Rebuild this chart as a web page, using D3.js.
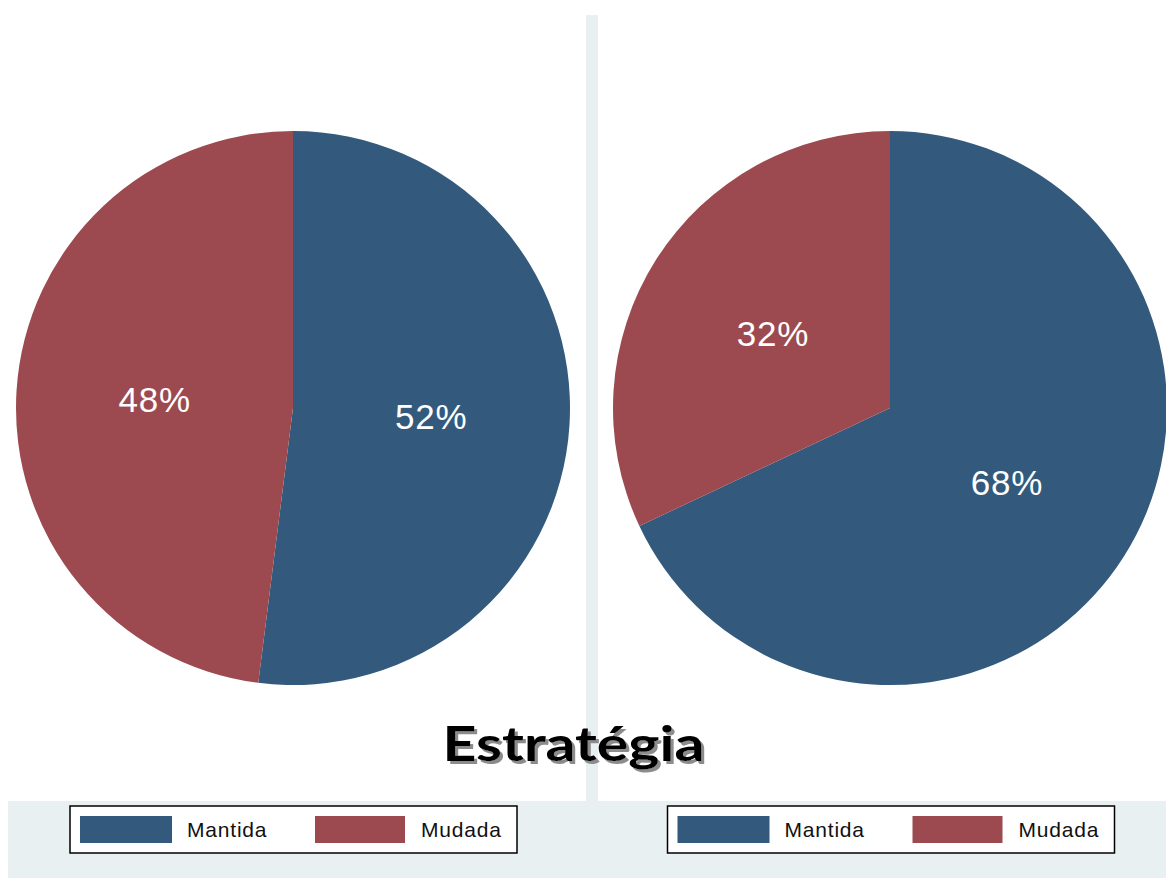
<!DOCTYPE html>
<html>
<head>
<meta charset="utf-8">
<script src="https://cdn.jsdelivr.net/npm/d3@7"></script>
<style>
  html, body { margin: 0; padding: 0; background: #ffffff; }
  svg { display: block; }
</style>
</head>
<body>
<script>
// ---- data ----
const categories = ["Mantida", "Mudada"];
const leftValues = [52, 48];
const rightValues = [68, 32];
const titleText = "Estratégia";

const W = 1166, H = 879;
const colors = d3.scaleOrdinal().domain(categories).range(["#335a7c", "#9c4a50"]);

const svg = d3.select("body").append("svg").attr("width", W).attr("height", H);

const defs = svg.append("defs");
const f = defs.append("filter").attr("id", "shadow")
  .attr("x", "-5%").attr("y", "-10%").attr("width", "115%").attr("height", "130%");
f.append("feDropShadow").attr("dx", 3).attr("dy", 3).attr("stdDeviation", 0.6)
  .attr("flood-color", "#8c8c8c").attr("flood-opacity", 1);

// background pieces
svg.append("rect").attr("x", 0).attr("y", 0).attr("width", W).attr("height", H).attr("fill", "#ffffff");
svg.append("rect").attr("x", 8).attr("y", 801).attr("width", W - 8).attr("height", 77).attr("fill", "#e8f0f2");
svg.append("rect").attr("x", 586).attr("y", 15).attr("width", 12).attr("height", 790).attr("fill", "#e8f0f2");

const r = 277;
const pie = d3.pie().sort(null).value(d => d.value);
const arc = d3.arc().innerRadius(0).outerRadius(r);
const labelArc = d3.arc().innerRadius(r * 0.5).outerRadius(r * 0.5);

function drawPie(cx, cy, values) {
  const data = categories.map((c, i) => ({ cat: c, value: values[i] }));
  const g = svg.append("g").attr("transform", `translate(${cx},${cy})`);
  const arcs = pie(data);
  g.selectAll("path").data(arcs).join("path")
    .attr("d", arc)
    .attr("fill", d => colors(d.data.cat));
  g.selectAll("text").data(arcs).join("text")
    .attr("transform", d => {
      const [x, y] = labelArc.centroid(d);
      return `translate(${x},${y})`;
    })
    .attr("text-anchor", "middle")
    .attr("dominant-baseline", "central")
    .attr("font-family", "Liberation Sans, Arial, sans-serif")
    .attr("font-size", 35)
    .attr("letter-spacing", 0.8)
    .attr("fill", "#ffffff")
    .text(d => d.data.value + "%");
}

drawPie(293, 408, leftValues);
drawPie(890, 408, rightValues);

function drawLegend(L) {
  const g = svg.append("g").attr("transform", `translate(${L},806)`);
  g.append("rect").attr("x", 0).attr("y", 0).attr("width", 447).attr("height", 47)
    .attr("fill", "#ffffff").attr("stroke", "#000000").attr("stroke-width", 1.5);
  const sx = [10, 245], tx = [117, 351], sw = [92, 90];
  categories.forEach((c, i) => {
    g.append("rect").attr("x", sx[i]).attr("y", 10).attr("width", sw[i]).attr("height", 27)
      .attr("fill", colors(c));
    g.append("text").attr("x", tx[i]).attr("y", 30.5)
      .attr("font-family", "Liberation Sans, Arial, sans-serif")
      .attr("font-size", 21)
      .attr("letter-spacing", 0.8)
      .attr("fill", "#111111")
      .text(c);
  });
}
drawLegend(70);
drawLegend(667.5);

// title with drop shadow
svg.append("text").attr("x", 573.5).attr("y", 761)
  .attr("text-anchor", "middle")
  .attr("font-family", "Lato, 'Open Sans', sans-serif")
  .attr("font-weight", "bold")
  .attr("font-size", 47)
  .attr("textLength", 262).attr("lengthAdjust", "spacingAndGlyphs")
  .attr("fill", "#000000")
  .attr("filter", "url(#shadow)")
  .text(titleText);
</script>
</body>
</html>
